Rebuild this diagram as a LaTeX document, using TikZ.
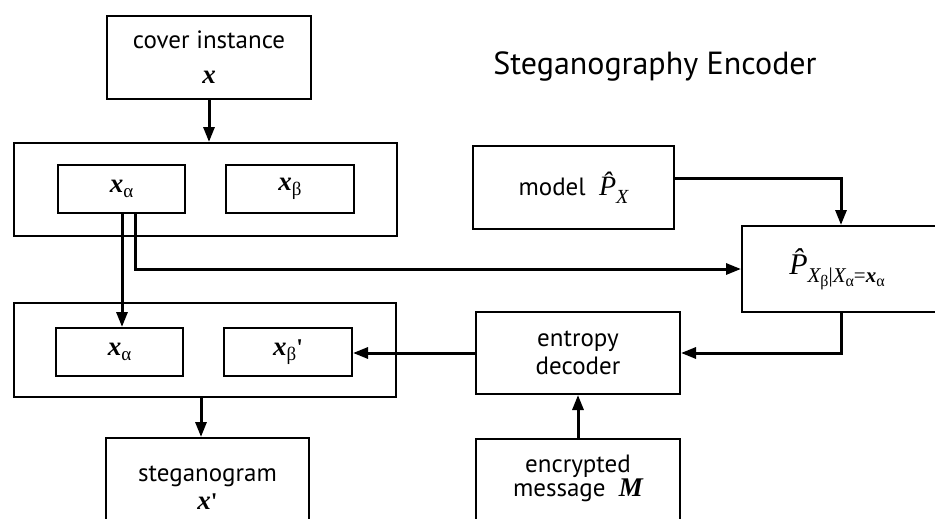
\documentclass[tikz,border=0pt]{standalone}
\usepackage{fontspec}
\setmainfont{PT Sans}
\newfontfamily\ser{Liberation Serif}
\usetikzlibrary{arrows.meta}
\newcommand\bx{{\ser\bfseries\itshape\fontsize{27}{27}\selectfont x}}
\newcommand\sbs[1]{\raisebox{-0.45ex}{\ser\fontsize{19}{19}\selectfont #1}}
\begin{document}
\begin{tikzpicture}[x=1pt,y=-1pt,
  box/.style={draw, line width=2pt, inner sep=0pt, anchor=north west, align=center, font=\fontsize{25}{36}\selectfont},
  arr/.style={line width=3pt, -{Triangle[length=15pt,width=11pt]}}]
\useasboundingbox (0,0) rectangle (935,519);
\clip (0,0) rectangle (935,519);
\fill[white] (0,0) rectangle (935,519);
\node[font=\fontsize{32}{34}\selectfont] (title) at (655,67) {Steganography Encoder};
\node[box, minimum width=204pt, minimum height=83pt] (cover) at (106,15) {cover instance\\[-1pt]\bx};
\node[box, minimum width=383pt, minimum height=93pt] (box1) at (13,142) {};
\node[box, minimum width=127pt, minimum height=48pt] (xa1) at (57,164) {\bx\sbs{α}};
\node[box, minimum width=128pt, minimum height=48pt] (xb1) at (225,164) {\bx\sbs{β}};
\node[box, minimum width=382pt, minimum height=94pt] (box2) at (13,302) {};
\node[box, minimum width=127pt, minimum height=48pt] (xa2) at (55,327) {\bx\sbs{α}};
\node[box, minimum width=128pt, minimum height=48pt] (xb2) at (223,327) {\bx\sbs{β}{\ser\bfseries\fontsize{24}{24}\selectfont '}};
\node[box, minimum width=203pt, minimum height=140pt, text depth=40pt] (steg) at (105,437) {steganogram\\[-8pt]\bx{\ser\bfseries\fontsize{24}{24}\selectfont '}};
\node[box, minimum width=201pt, minimum height=83pt] (model) at (472,145) {model\ \ {\ser\itshape\fontsize{28}{28}\selectfont\^{P}\raisebox{-0.6ex}{\fontsize{20}{20}\selectfont X}}};
\node[box, minimum width=250pt, minimum height=86pt] (P) at (741,225) {\hspace{-60pt}{\ser\itshape\fontsize{30}{30}\selectfont\^{P}\raisebox{-0.6ex}{\fontsize{21}{21}\selectfont X\raisebox{-0.4ex}{\upshape\fontsize{16}{16}\selectfont β}\upshape|\itshape X\raisebox{-0.4ex}{\upshape\fontsize{16}{16}\selectfont α}\upshape=\bfseries\itshape x\raisebox{-0.4ex}{\mdseries\upshape\fontsize{16}{16}\selectfont α}}}};
\node[box, minimum width=204pt, minimum height=82pt] (ent) at (475,311) {entropy\\[-8pt]decoder};
\node[box, minimum width=204pt, minimum height=140pt, text depth=66pt] (enc) at (475,438) {encrypted\\[-12pt]message\ \ {\ser\bfseries\itshape\fontsize{27}{27}\selectfont M}};
\coordinate (ca) at (122,0);
\coordinate (cb) at (135,0);
\coordinate (cm) at (841,0);
\coordinate (my) at (0,178);
\coordinate (cs) at (201,0);
\draw[arr] (cover.south) -- (box1.north -| cover.south);
\draw[arr] (xa1.south -| ca) -- (xa2.north -| ca);
\draw[arr] (xa1.south -| cb) |- (P.west);
\draw[arr] (model.east |- my) -| (P.north -| cm);
\draw[arr] (P.south -| cm) |- (ent.east);
\draw[arr] (ent.west) -- (ent.west -| xb2.east);
\draw[arr] (enc.north -| ent.south) -- (ent.south);
\draw[arr] (box2.south -| cs) -- (steg.north -| cs);
\end{tikzpicture}
\end{document}
